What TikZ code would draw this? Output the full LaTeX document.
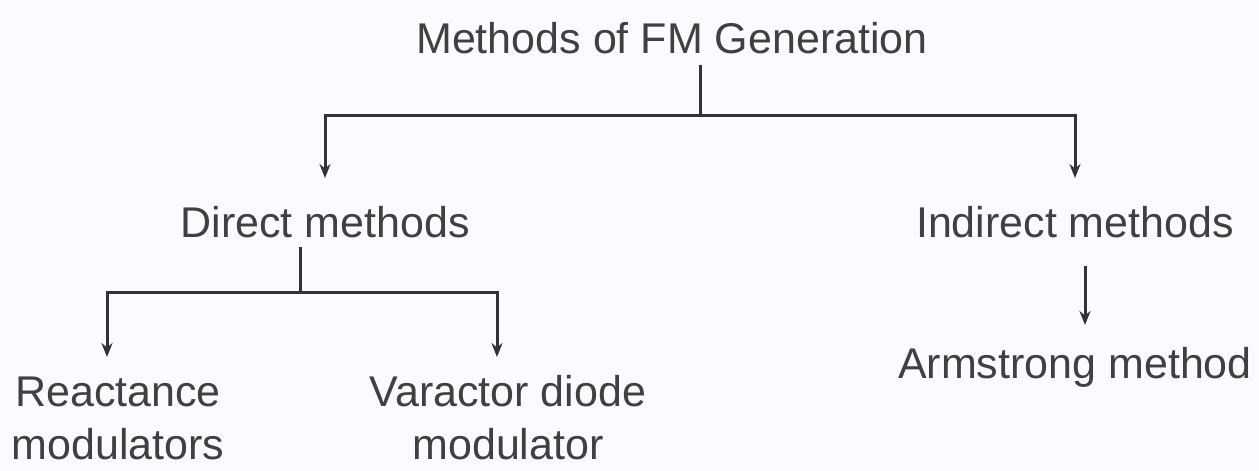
\documentclass[tikz,border=0pt]{standalone}
\usepackage{fontspec}
\setmainfont{Liberation Sans}
\usetikzlibrary{arrows.meta}
\begin{document}
\begin{tikzpicture}[x=1pt,y=-1pt,
  lbl/.style={font=\fontsize{43}{53}\selectfont, text=black!75, align=center, inner sep=0pt},
  conn/.style={line width=3pt, draw=black!80},
  arr/.style={conn, -{Stealth[length=14pt,width=11pt]}}]
\fill[blue!2] (0,0) rectangle (1259,471);
\useasboundingbox (0,0) rectangle (1259,471);
\node[lbl] (root) at (672,38) {Methods of FM Generation};
\node[lbl] (direct) at (325,222) {Direct methods};
\node[lbl] (indirect) at (1075,222) {Indirect methods};
\node[lbl] (arm) at (1075,367) {Armstrong method};
\node[lbl] (react) at (118,418) {Reactance\\modulators};
\node[lbl] (varac) at (508,418) {Varactor diode\\modulator};
\coordinate (j1) at (700,115);
\coordinate (j2) at (300,292);
\draw[conn] (700,65) -- (j1);
\draw[arr] (j1) -- (325,115) -- (325,178);
\draw[arr] (j1) -- (1075,115) -- (1075,178);
\draw[conn] (300,247) -- (j2);
\draw[arr] (j2) -- (107,292) -- (107,357);
\draw[arr] (j2) -- (497,292) -- (497,357);
\draw[arr] (1085,266) -- (1085,325);
\end{tikzpicture}
\end{document}
